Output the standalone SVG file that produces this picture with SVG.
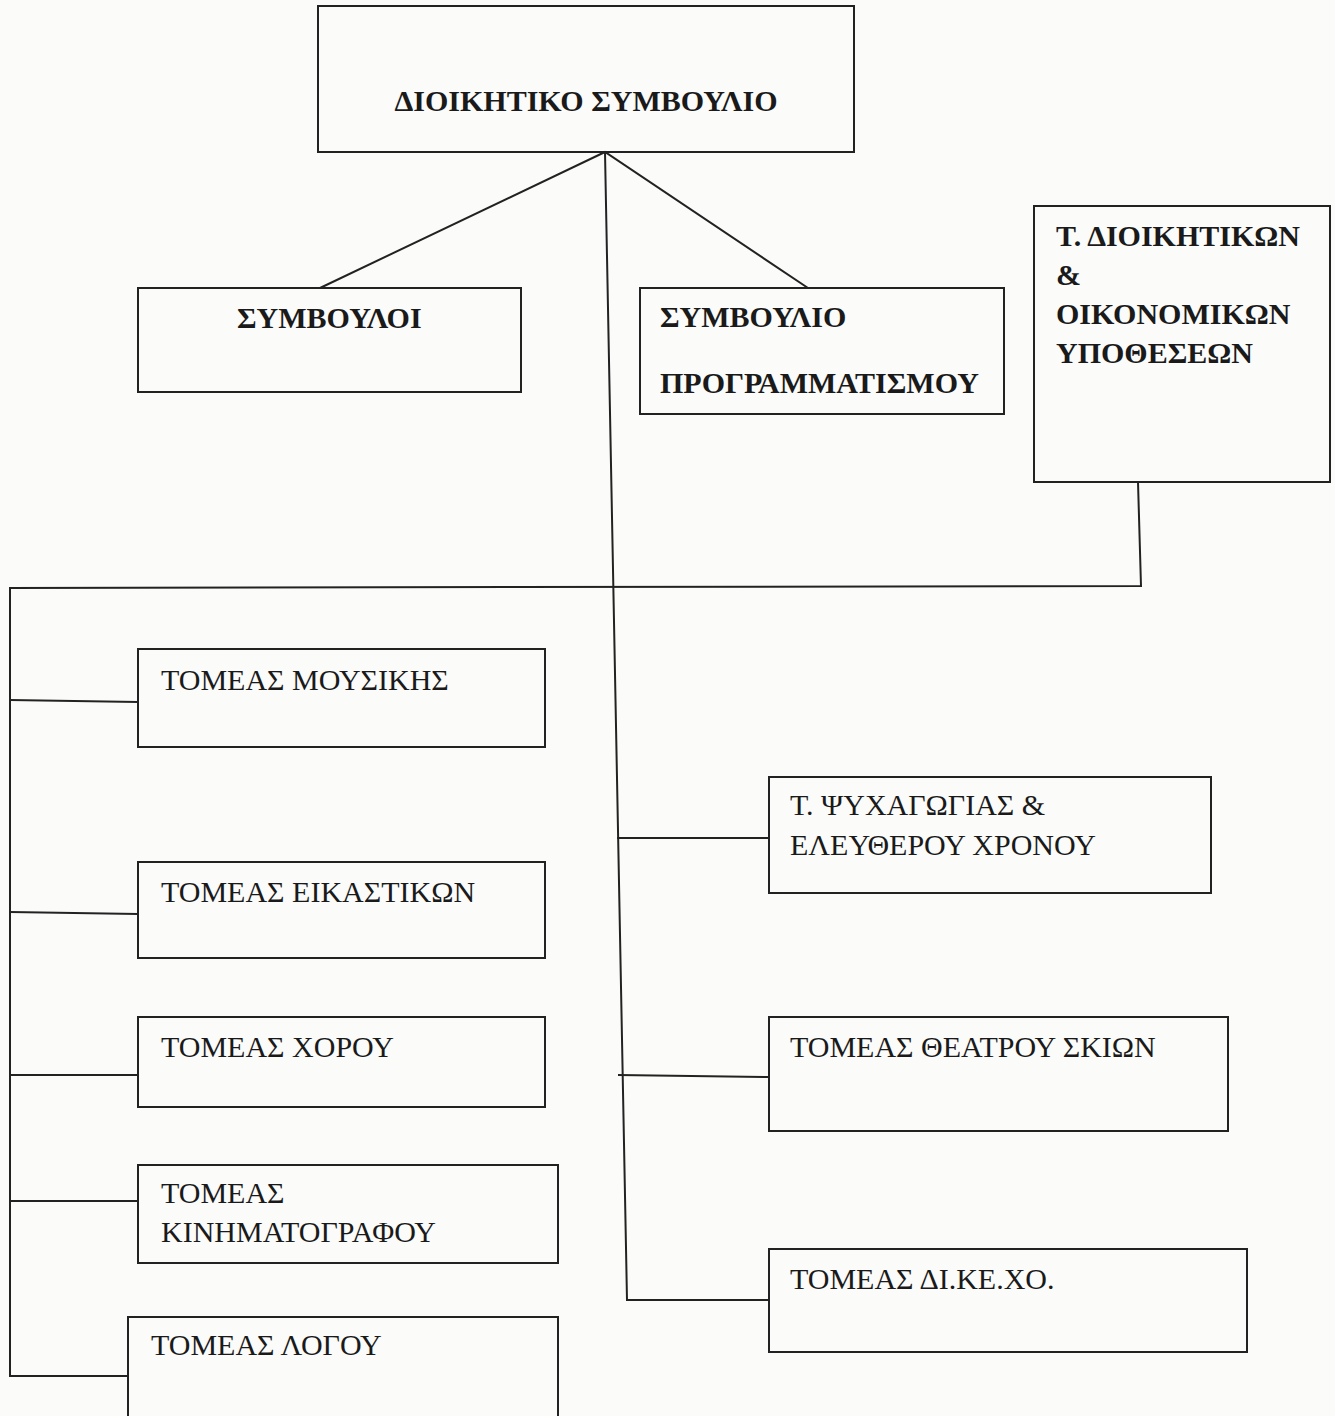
<svg xmlns="http://www.w3.org/2000/svg" width="1335" height="1416" viewBox="0 0 1335 1416">
<style>
.box{fill:none;stroke:#222;stroke-width:2}
.ln{fill:none;stroke:#222;stroke-width:2}
.b{font-family:"Liberation Serif","Times New Roman",serif;font-weight:bold;font-size:30px;fill:#1a1a1a}
.r{font-family:"Liberation Serif","Times New Roman",serif;font-size:30px;fill:#1a1a1a}
</style>
<rect width="1335" height="1416" fill="#fbfbfa"/>
<g id="connectors">
<polyline class="ln" points="320,288 605,152 808,288"/>
<polyline class="ln" points="605,152 627,1300 769,1300"/>
<polyline class="ln" points="1138,482 1141,586 10,588 10,1376 128,1376"/>
<line class="ln" x1="10" y1="700" x2="138" y2="702"/>
<line class="ln" x1="10" y1="912" x2="138" y2="914"/>
<line class="ln" x1="10" y1="1075" x2="138" y2="1075"/>
<line class="ln" x1="10" y1="1201" x2="138" y2="1201"/>
<line class="ln" x1="617" y1="838" x2="769" y2="838"/>
<line class="ln" x1="618" y1="1075" x2="769" y2="1077"/>
</g>
<g id="dioikitiko">
<rect class="box" x="318" y="6" width="536" height="146"/>
<text class="b" x="586" y="111" text-anchor="middle">ΔΙΟΙΚΗΤΙΚΟ ΣΥΜΒΟΥΛΙΟ</text>
</g>
<g id="symvouloi">
<rect class="box" x="138" y="288" width="383" height="104"/>
<text class="b" x="237" y="328">ΣΥΜΒΟΥΛΟΙ</text>
</g>
<g id="programmatismos">
<rect class="box" x="640" y="288" width="364" height="126"/>
<text class="b" x="660" y="327">ΣΥΜΒΟΥΛΙΟ</text>
<text class="b" x="660" y="393">ΠΡΟΓΡΑΜΜΑΤΙΣΜΟΥ</text>
</g>
<g id="dioikitikon">
<rect class="box" x="1034" y="206" width="296" height="276"/>
<text class="b" x="1056" y="246">Τ. ΔΙΟΙΚΗΤΙΚΩΝ</text>
<text class="b" x="1056" y="285">&amp;</text>
<text class="b" x="1056" y="324">ΟΙΚΟΝΟΜΙΚΩΝ</text>
<text class="b" x="1056" y="363">ΥΠΟΘΕΣΕΩΝ</text>
</g>
<g id="mousikis">
<rect class="box" x="138" y="649" width="407" height="98"/>
<text class="r" x="161" y="690">ΤΟΜΕΑΣ ΜΟΥΣΙΚΗΣ</text>
</g>
<g id="eikastikon">
<rect class="box" x="138" y="862" width="407" height="96"/>
<text class="r" x="161" y="902">ΤΟΜΕΑΣ ΕΙΚΑΣΤΙΚΩΝ</text>
</g>
<g id="chorou">
<rect class="box" x="138" y="1017" width="407" height="90"/>
<text class="r" x="161" y="1057">ΤΟΜΕΑΣ ΧΟΡΟΥ</text>
</g>
<g id="kinimatografou">
<rect class="box" x="138" y="1165" width="420" height="98"/>
<text class="r" x="161" y="1203">ΤΟΜΕΑΣ</text>
<text class="r" x="161" y="1242">ΚΙΝΗΜΑΤΟΓΡΑΦΟΥ</text>
</g>
<g id="logou">
<rect class="box" x="128" y="1317" width="430" height="110"/>
<text class="r" x="151" y="1355">ΤΟΜΕΑΣ ΛΟΓΟΥ</text>
</g>
<g id="psychagogias">
<rect class="box" x="769" y="777" width="442" height="116"/>
<text class="r" x="790" y="815">Τ. ΨΥΧΑΓΩΓΙΑΣ &amp;</text>
<text class="r" x="790" y="855">ΕΛΕΥΘΕΡΟΥ ΧΡΟΝΟΥ</text>
</g>
<g id="theatrou">
<rect class="box" x="769" y="1017" width="459" height="114"/>
<text class="r" x="790" y="1057">ΤΟΜΕΑΣ ΘΕΑΤΡΟΥ ΣΚΙΩΝ</text>
</g>
<g id="dikecho">
<rect class="box" x="769" y="1249" width="478" height="103"/>
<text class="r" x="790" y="1289">ΤΟΜΕΑΣ ΔΙ.ΚΕ.ΧΟ.</text>
</g>
</svg>
